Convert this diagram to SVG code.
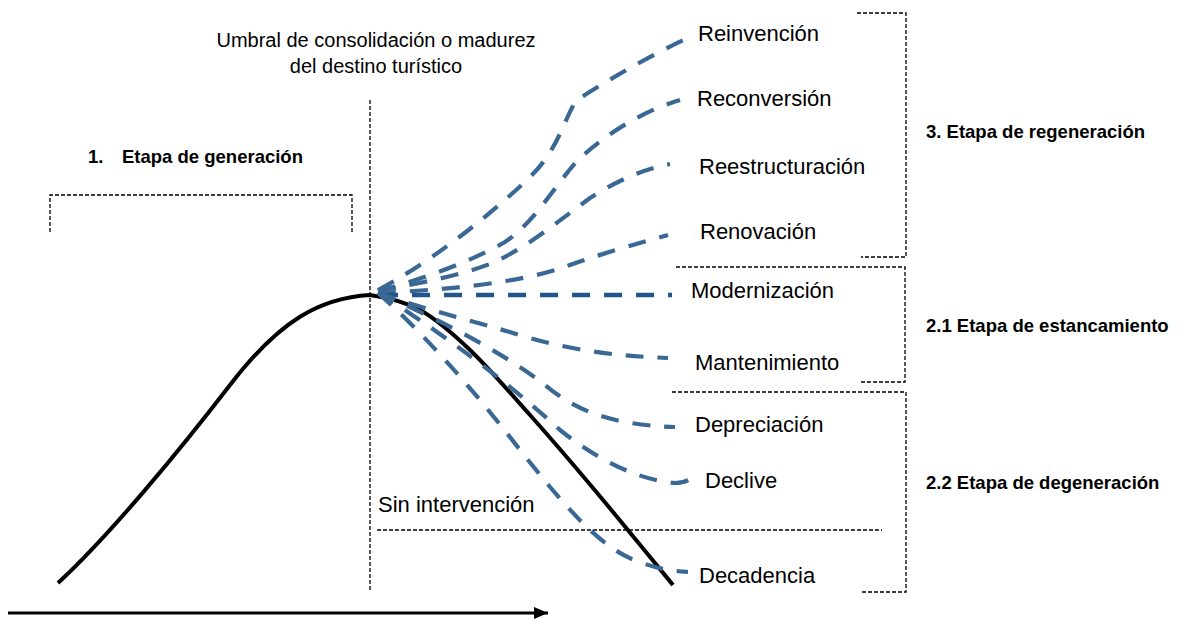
<svg xmlns="http://www.w3.org/2000/svg" width="1195" height="619" viewBox="0 0 1195 619">
<style>
.lbl{font-family:"Liberation Sans",Arial,sans-serif;font-size:22px;fill:#000}
.top{font-family:"Liberation Sans",Arial,sans-serif;font-size:20px;fill:#000}
.bold{font-family:"Liberation Sans",Arial,sans-serif;font-size:18.5px;font-weight:bold;fill:#000}
.dot{fill:none;stroke:#000;stroke-width:1.3;stroke-dasharray:4 2}
.blue{fill:none;stroke:#3a6894;stroke-width:4.2;stroke-dasharray:18 14}
.blue2{fill:none;stroke:#23548a;stroke-width:4.4;stroke-dasharray:18 14}
.curve{fill:none;stroke:#000;stroke-width:4;stroke-linecap:butt}
</style>
<defs>
<marker id="ah" markerWidth="14" markerHeight="12" refX="14" refY="6" orient="auto" markerUnits="userSpaceOnUse">
<path d="M0,0 L14,6 L0,12 z" fill="#000"/>
</marker>
</defs>

<g id="guides">
<path class="dot" d="M370,100 V592"/>
<path class="dot" d="M50,232 V195 H352 V232"/>
<path class="dot" d="M857,13 H906 V257 H861"/>
<path class="dot" d="M676,267 H905 V382 H861"/>
<path class="dot" d="M672,392 H906 V592 H861"/>
<path class="dot" d="M377,530 H882"/>
</g>

<g id="axis">
<line x1="8" y1="613" x2="548" y2="613" stroke="#000" stroke-width="3" marker-end="url(#ah)"/>
</g>

<g id="lifecycle">
<path class="curve" d="M58,583 C110,535 180,450 230,385 S320,298 370,295 C383.3,297 403.3,300.8 420,310 C436.7,319.2 451.7,332.5 470,350 C488.3,367.5 509.5,392 530,415 C550.5,438 569.2,459.7 593,488 C616.8,516.3 659.7,568.8 673,585"/>
</g>

<g id="connectors">
<path id="c-reinvencion" class="blue" d="M378,290 C420,268 480,225 530,177 C560,148 565,115 577,100 C600,85 650,55 690,37"/>
<path id="c-reconversion" class="blue" d="M378,291 C420,280 470,262 505,242 C535,222 555,185 578,160 C605,135 640,112 680,100"/>
<path id="c-reestructuracion" class="blue" d="M378,291 C420,283 460,276 495,262 C530,245 560,220 590,198 C615,182 640,170 670,164"/>
<path id="c-renovacion" class="blue" d="M378,293 C440,290 520,284 570,265 C600,254 640,243 668,235"/>
<path id="c-modernizacion" class="blue2" d="M380,295 H672"/>
<path id="c-mantenimiento" class="blue" d="M378,293 C420,308 470,320 530,338 C580,352 620,356 668,358"/>
<path id="c-depreciacion" class="blue" d="M378,293 C430,315 500,350 545,385 C575,410 610,425 675,427"/>
<path id="c-declive" class="blue" d="M378,293 C430,325 500,375 560,430 C600,462 640,480 675,483 Q684,483 690,479"/>
<path id="c-decadencia" class="blue" d="M378,293 C420,330 470,385 520,450 C560,500 600,550 640,562 C660,570 675,571 688,572"/>
</g>

<g id="title">
<text class="top" x="376" y="47" text-anchor="middle">Umbral de consolidación o madurez</text>
<text class="top" x="376" y="73" text-anchor="middle">del destino turístico</text>
</g>

<g id="stage1">
<text class="bold" x="88" y="163">1.</text>
<text class="bold" x="122" y="163">Etapa de generación</text>
</g>

<g id="n-reinvencion"><text class="lbl" x="698" y="41">Reinvención</text></g>
<g id="n-reconversion"><text class="lbl" x="697" y="106">Reconversión</text></g>
<g id="n-reestructuracion"><text class="lbl" x="699" y="174">Reestructuración</text></g>
<g id="n-renovacion"><text class="lbl" x="700" y="239">Renovación</text></g>
<g id="n-modernizacion"><text class="lbl" x="691" y="298">Modernización</text></g>
<g id="n-mantenimiento"><text class="lbl" x="695" y="370">Mantenimiento</text></g>
<g id="n-depreciacion"><text class="lbl" x="695" y="432">Depreciación</text></g>
<g id="n-declive"><text class="lbl" x="705" y="488">Declive</text></g>
<g id="n-decadencia"><text class="lbl" x="699" y="583">Decadencia</text></g>
<g id="n-sin"><text class="lbl" x="378" y="512">Sin intervención</text></g>

<g id="stage3"><text class="bold" x="926" y="138">3. Etapa de regeneración</text></g>
<g id="stage21"><text class="bold" x="926" y="332">2.1 Etapa de estancamiento</text></g>
<g id="stage22"><text class="bold" x="926" y="489">2.2 Etapa de degeneración</text></g>
</svg>
